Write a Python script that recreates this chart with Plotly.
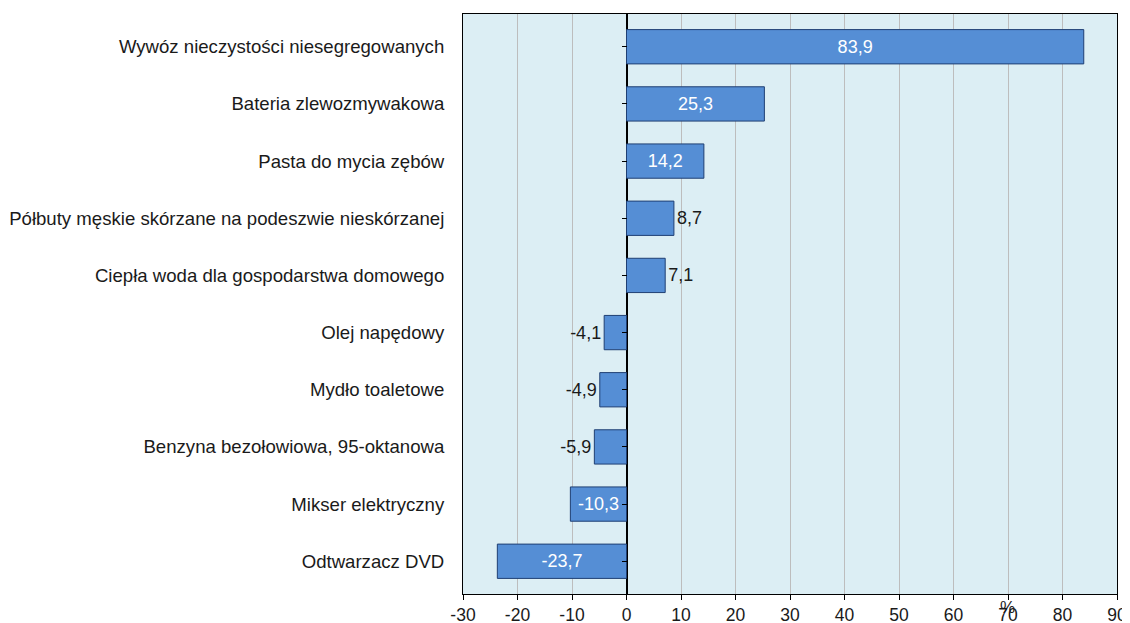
import plotly.graph_objects as go

categories = [
    "Wywóz nieczystości niesegregowanych",
    "Bateria zlewozmywakowa",
    "Pasta do mycia zębów",
    "Półbuty męskie skórzane na podeszwie nieskórzanej",
    "Ciepła woda dla gospodarstwa domowego",
    "Olej napędowy",
    "Mydło toaletowe",
    "Benzyna bezołowiowa, 95-oktanowa",
    "Mikser elektryczny",
    "Odtwarzacz DVD",
]
values = [83.9, 25.3, 14.2, 8.7, 7.1, -4.1, -4.9, -5.9, -10.3, -23.7]
x_ticks = list(range(-30, 91, 10))

positions = ["inside" if abs(v) >= 10 else "outside" for v in values]

FONT = "Liberation Sans, Arial, sans-serif"
TXT = "#1a1a1a"

fig = go.Figure()
fig.add_trace(go.Bar(
    y=categories, x=values, orientation="h",
    marker=dict(color="#558ED5", line=dict(color="#1F3F73", width=1)),
    texttemplate="%{x:.1f}", textposition=positions,
    insidetextanchor="middle",
    insidetextfont=dict(color="white", size=18, family=FONT),
    outsidetextfont=dict(color=TXT, size=18, family=FONT),
    cliponaxis=False,
    hoverinfo="skip",
))
# invisible trace to draw small category ticks on the zero line
fig.add_trace(go.Scatter(
    y=categories, x=[0] * len(categories), yaxis="y2", mode="markers",
    marker=dict(opacity=0), hoverinfo="skip", showlegend=False,
))

fig.update_layout(
    width=1122, height=615,
    margin=dict(l=455, r=13, t=6, b=29),
    paper_bgcolor="white", plot_bgcolor="#DCEEF4",
    separators=", ",
    showlegend=False,
    bargap=0.4,
    font=dict(family=FONT, size=18, color=TXT),
    xaxis=dict(
        range=[-30, 90], tickvals=x_ticks, ticktext=[str(t) for t in x_ticks],
        showgrid=True, gridcolor="#BDBDBD", gridwidth=1,
        zeroline=True, zerolinecolor="black", zerolinewidth=1.5,
        showline=True, linecolor="black", linewidth=1, mirror=True,
        ticks="outside", ticklen=5, tickcolor="black",
        tickfont=dict(size=17.5, color=TXT),
        automargin=False, fixedrange=True,
    ),
    yaxis=dict(
        autorange="reversed", showgrid=False,
        showline=True, linecolor="black", linewidth=1, mirror=True,
        ticks="", ticklabelstandoff=14,
        tickfont=dict(size=18.6, color=TXT),
        automargin=False,
    ),
    yaxis2=dict(
        overlaying="y", anchor="free", position=0.25, side="left",
        autorange="reversed", showgrid=False, showticklabels=False,
        ticks="outside", ticklen=5, tickcolor="black", showline=False,
        matches="y", automargin=False,
    ),
    annotations=[dict(
        text="%", xref="paper", yref="paper", x=0.832, y=0,
        yanchor="top", xanchor="center", yshift=-2, showarrow=False,
        font=dict(size=17, color=TXT, family=FONT),
    )],
)

fig.write_html("out.html")
